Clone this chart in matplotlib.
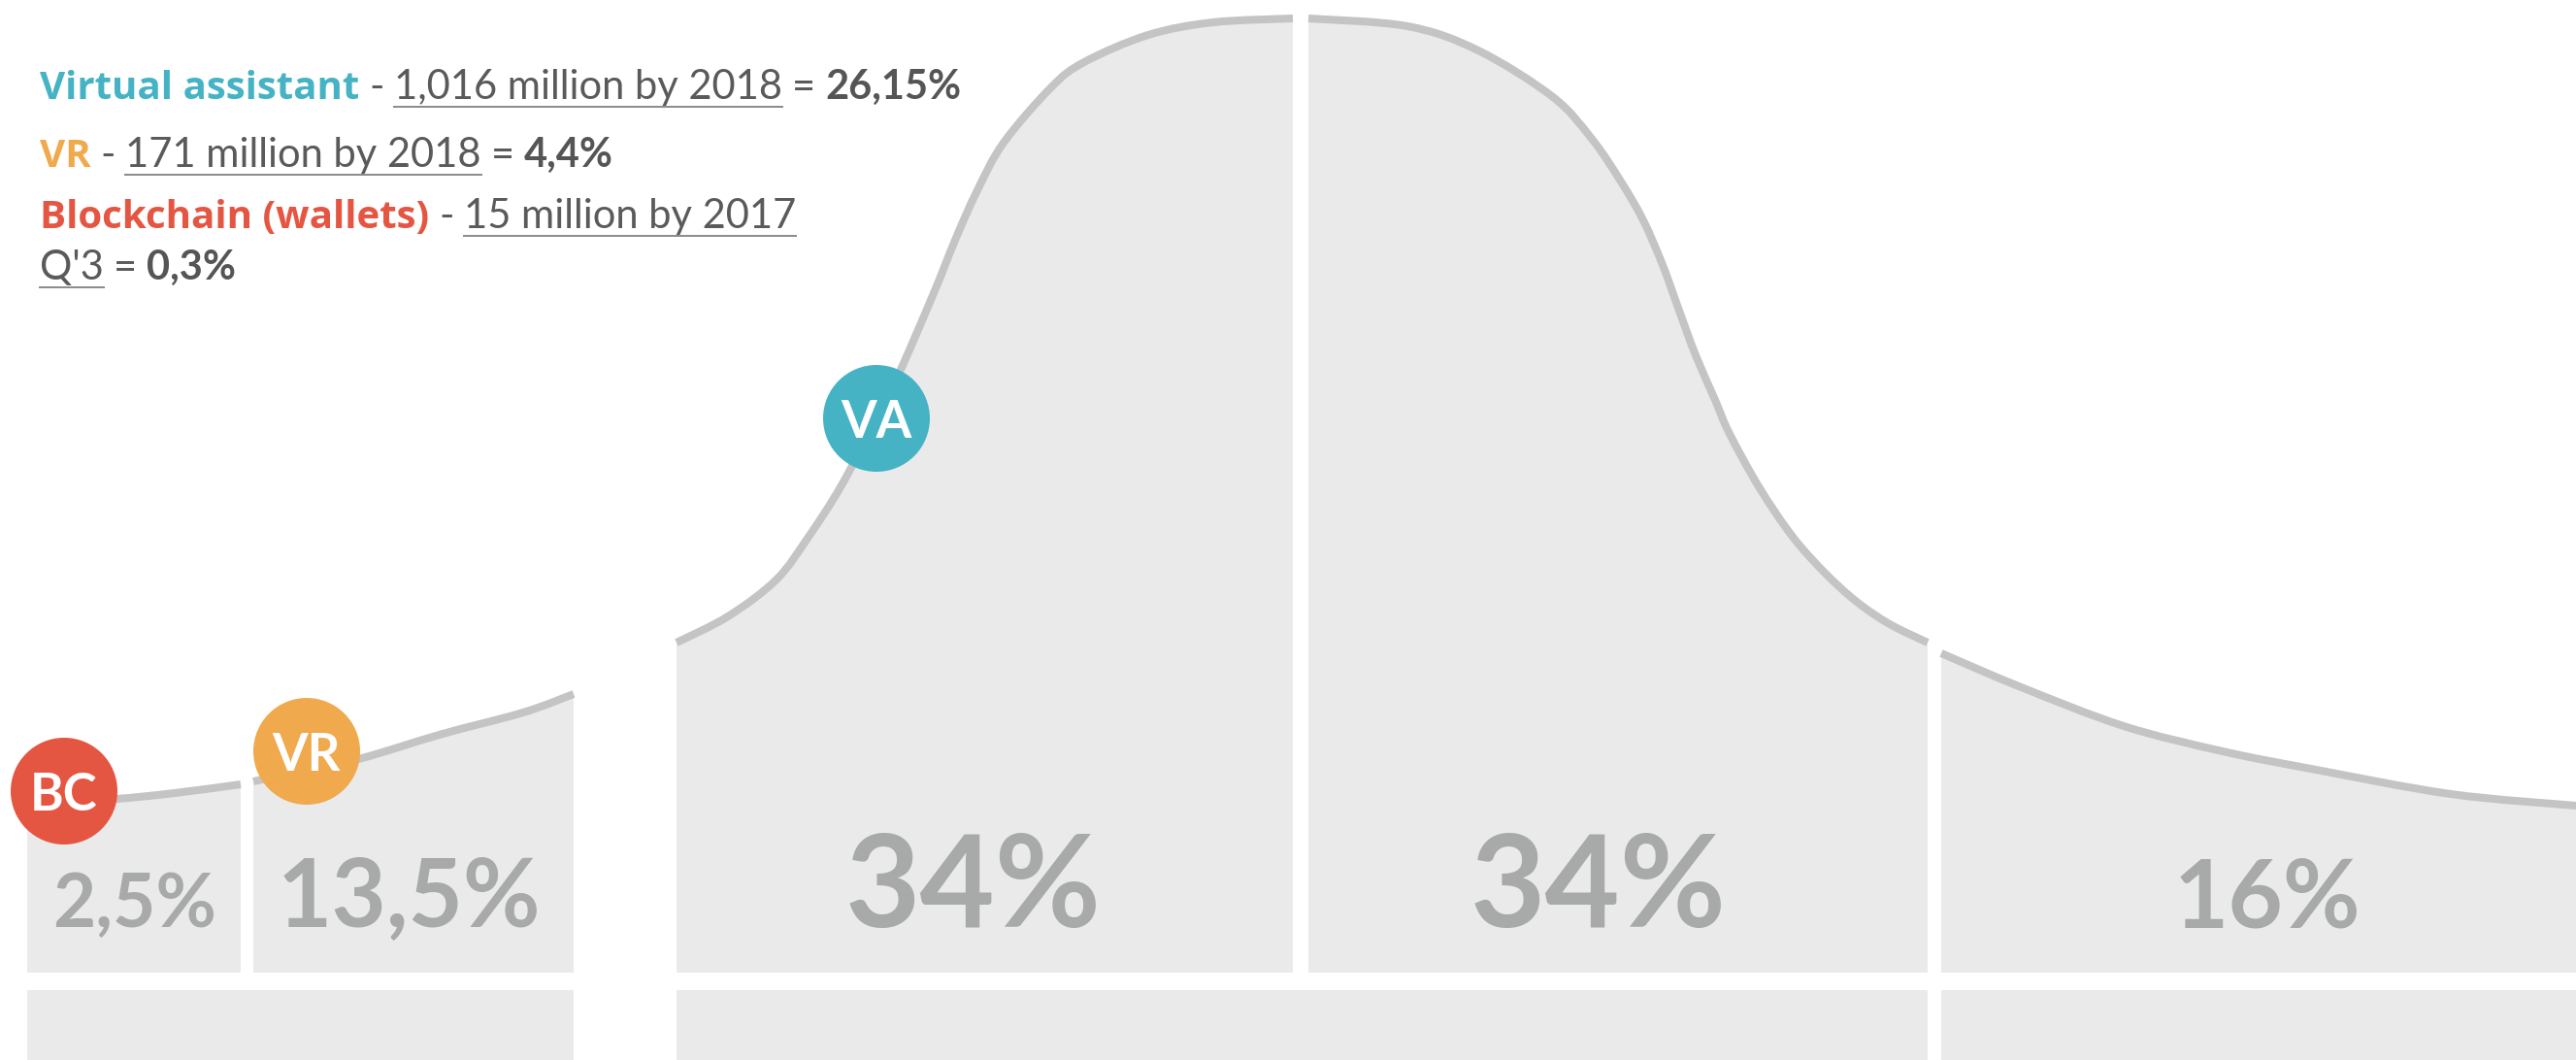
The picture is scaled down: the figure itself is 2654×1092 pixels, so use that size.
import matplotlib
matplotlib.use("Agg")
import matplotlib.pyplot as plt
from matplotlib.path import Path
from matplotlib.patches import PathPatch

# adoption curve segments (innovators -> laggards)
segment_labels = ["2,5%", "13,5%", "34%", "34%", "16%"]
segment_edges = [(28, 248), (261, 591), (697, 1332), (1348, 1986), (2000, 2654)]

# curve: x position and height above the segment base
curve_x = [
    [28, 66, 120, 180, 248],
    [261, 316, 373, 456, 539, 591],
    [697, 750, 800, 833, 867, 903, 927, 962, 985, 1007, 1034, 1083, 1117, 1183, 1250, 1332],
    [1348, 1450, 1523, 1600, 1640, 1670, 1693, 1713, 1730, 1747, 1767, 1782, 1813, 1847, 1880, 1913, 1947, 1986],
    [2000, 2080, 2188, 2290, 2381, 2525, 2654],
]
curve_h = [
    [176, 177, 179, 185, 194],
    [197, 209, 221, 246, 268, 287],
    [340, 367, 405, 449, 502, 571, 619, 700, 757, 806, 855, 912, 938, 966, 979, 983],
    [983, 975, 950, 902, 859, 815, 775, 729, 682, 636, 590, 555, 499, 449, 412, 382, 359, 340],
    [329, 295, 254, 228, 210, 184, 172],
]
label_x = [139, 421, 1003, 1647, 2336]
label_sizes = [55, 70, 96, 96, 70]

# lower row of boxes
bottom_edges = [(28, 591), (697, 1986), (2000, 2654)]

# technology markers
marker_labels = ["BC", "VR", "VA"]
marker_x = [66, 316, 903]
marker_h = [187, 228, 571]

TEAL = "#45B3C4"
ORANGE = "#F0A94D"
RED = "#E55642"
marker_colors = [RED, ORANGE, TEAL]

# legend text: (text, style)
legend_lines = [
    [("Virtual assistant", "va"), ("-", "txt"), ("1,016 million by 2018", "ul"), ("=", "txt"), ("26,15%", "val")],
    [("VR", "vr"), ("-", "txt"), ("171 million by 2018", "ul"), ("=", "txt"), ("4,4%", "val")],
    [("Blockchain (wallets)", "bc"), ("-", "txt"), ("15 million by 2017", "ul")],
    [("Q'3", "ul"), ("=", "txt"), ("0,3%", "val")],
]
legend_baselines = [102, 172, 235, 288]

FONT = ["Lato", "DejaVu Sans"]
HEAD_FONT = ["Open Sans", "Lato", "DejaVu Sans"]
FILL = "#EAEAEA"
LINE = "#C4C4C4"
NUM = "#A7AAA8"
TXT = "#5A5A5A"
BASE = 1002  # pixel row of the segment base

styles = {
    "va": dict(color=TEAL, fontweight="bold", family=HEAD_FONT, fontsize=29),
    "vr": dict(color=ORANGE, fontweight="bold", family=HEAD_FONT, fontsize=29),
    "bc": dict(color=RED, fontweight="bold", family=HEAD_FONT, fontsize=29),
    "txt": dict(color=TXT, fontweight="normal", family=FONT, fontsize=30),
    "ul": dict(color=TXT, fontweight="normal", family=FONT, fontsize=30),
    "val": dict(color="#555555", fontweight="bold", family=FONT, fontsize=30),
}


def smooth_path(xs, ys):
    # catmull-rom through the read points, drawn as cubic beziers
    pts = list(zip(xs, ys))
    verts = [pts[0]]
    codes = [Path.MOVETO]
    n = len(pts)
    for i in range(n - 1):
        p0 = pts[max(i - 1, 0)]
        p1 = pts[i]
        p2 = pts[i + 1]
        p3 = pts[min(i + 2, n - 1)]
        c1 = (p1[0] + (p2[0] - p0[0]) / 6, p1[1] + (p2[1] - p0[1]) / 6)
        c2 = (p2[0] - (p3[0] - p1[0]) / 6, p2[1] - (p3[1] - p1[1]) / 6)
        verts += [c1, c2, p2]
        codes += [Path.CURVE4] * 3
    return verts, codes


fig = plt.figure(figsize=(26.54, 10.92), dpi=100)
ax = fig.add_axes([0, 0, 1, 1])
ax.set_xlim(0, 2654)
ax.set_ylim(BASE - 1092, BASE)
ax.axis("off")

for xs, hs, lab, lx, fs in zip(curve_x, curve_h, segment_labels, label_x, label_sizes):
    verts, codes = smooth_path(xs, hs)
    area = Path(verts + [(xs[-1], 0), (xs[0], 0), verts[0]],
                codes + [Path.LINETO, Path.LINETO, Path.CLOSEPOLY])
    ax.add_patch(PathPatch(area, facecolor=FILL, lw=0, zorder=1))
    ax.add_patch(PathPatch(Path(verts, codes), facecolor="none", edgecolor=LINE,
                           lw=5.8, capstyle="butt", zorder=2))
    ax.text(lx, BASE - 955, lab, ha="center", va="baseline", fontsize=fs,
            fontweight="bold", color=NUM, family=FONT, zorder=3)

for x0, x1 in bottom_edges:
    ax.bar(x0, -200, width=x1 - x0, bottom=-18, align="edge", color=FILL, lw=0, zorder=1)

ax.scatter(marker_x, marker_h, s=6273, c=marker_colors, lw=0, zorder=5)
for lab, x, h in zip(marker_labels, marker_x, marker_h):
    ax.text(x, h, lab, ha="center", va="center_baseline", fontsize=38, fontweight="bold",
            color="white", family=FONT, zorder=6)

fig.canvas.draw()
renderer = fig.canvas.get_renderer()
gap = 10
for row, base_y in zip(legend_lines, legend_baselines):
    x = 41
    y = BASE - base_y
    for text, style in row:
        t = ax.text(x, y, text, ha="left", va="baseline", zorder=4, **styles[style])
        w = t.get_window_extent(renderer).width
        if style == "ul":
            ax.plot([x, x + w], [y - 8, y - 8], color="#8A8A8A", lw=1.4, zorder=4)
        x += w + gap

fig.savefig("out.png", dpi=100, facecolor="white")
